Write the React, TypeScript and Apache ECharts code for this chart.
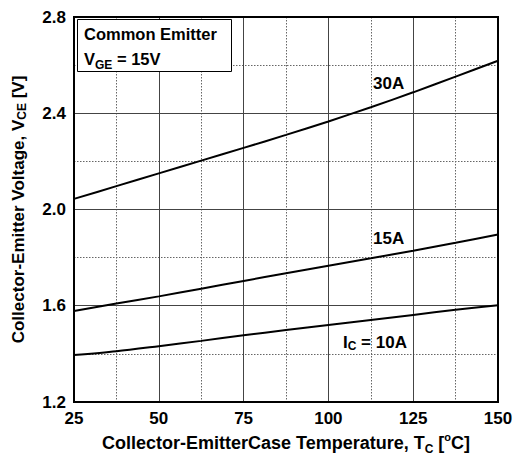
import React, { useEffect, useRef } from "react";
import * as echarts from "echarts";

const temps = [25, 37.5, 50, 62.5, 75, 87.5, 100, 112.5, 125, 137.5, 150];
const vce30A = [2.044, 2.097, 2.150, 2.203, 2.256, 2.310, 2.366, 2.425, 2.487, 2.552, 2.618];
const vce15A = [1.578, 1.609, 1.639, 1.671, 1.703, 1.735, 1.766, 1.797, 1.829, 1.862, 1.896];
const vce10A = [1.395, 1.411, 1.432, 1.454, 1.477, 1.499, 1.520, 1.541, 1.562, 1.583, 1.602];

const FONT = "'Liberation Sans', Arial, Helvetica, sans-serif";

export default function App() {
  const ref = useRef<HTMLDivElement>(null);
  useEffect(() => {
    const chart = echarts.init(ref.current!, null, { renderer: "svg" });
    const mk = (vals: number[]) => temps.map((t, i) => [t, vals[i]]);
    const lineSeries = (name: string, vals: number[]) => ({
      name,
      type: "line",
      data: mk(vals),
      smooth: 0.3,
      showSymbol: false,
      lineStyle: { color: "#000", width: 2 },
      z: 5,
    });
    const hidden = {
      axisLine: { show: false },
      axisTick: { show: false },
      axisLabel: { show: false },
    };
    const dotted = { show: true, lineStyle: { color: "#666", width: 1, type: [1.5, 1.5] } };
    const solid = { show: true, lineStyle: { color: "#444", width: 1 } };
    chart.setOption({
      animation: false,
      backgroundColor: "#fff",
      textStyle: { fontFamily: FONT },
      grid: {
        left: 74,
        top: 17,
        right: 16,
        bottom: 53,
        outerBoundsMode: "none",
        containLabel: false,
        show: true,
        borderColor: "#000",
        borderWidth: 2,
        z: 3,
      },
      xAxis: [
        {
          type: "value",
          min: 25,
          max: 150,
          interval: 25,
          z: 2,
          axisLine: { show: true, lineStyle: { color: "#000", width: 2 } },
          axisTick: { show: false },
          axisLabel: { color: "#000", fontWeight: "bold", fontSize: 17, fontFamily: FONT, margin: 8 },
          splitLine: solid,
          name: "{t|Collector-EmitterCase Temperature, T}{s|C}{t| [}{sup|o}{t|C]}",
          nameLocation: "middle",
          nameGap: 28,
          nameTextStyle: {
            rich: {
              t: { fontWeight: "bold", fontSize: 18, color: "#000", fontFamily: FONT },
              s: { fontWeight: "bold", fontSize: 12, color: "#000", fontFamily: FONT, verticalAlign: "bottom", padding: [8, 0, 0, 0] },
              sup: { fontWeight: "bold", fontSize: 11, color: "#000", fontFamily: FONT, verticalAlign: "bottom", padding: [0, 0, 12, 0] },
            },
          },
        },
        {
          type: "value",
          min: 25,
          max: 150,
          interval: 12.5,
          z: 1,
          ...hidden,
          splitLine: dotted,
        },
      ],
      yAxis: [
        {
          type: "value",
          min: 1.2,
          max: 2.8,
          interval: 0.4,
          z: 2,
          axisLine: { show: true, lineStyle: { color: "#000", width: 2 } },
          axisTick: { show: false },
          axisLabel: {
            color: "#000",
            fontWeight: "bold",
            fontSize: 17,
            fontFamily: FONT,
            margin: 8,
            formatter: (v: number) => v.toFixed(1),
          },
          splitLine: solid,
          name: "{t|Collector-Emitter Voltage, V}{s|CE}{t| [V]}",
          nameLocation: "middle",
          nameGap: 46,
          nameRotate: 90,
          nameTextStyle: {
            rich: {
              t: { fontWeight: "bold", fontSize: 17, color: "#000", fontFamily: FONT },
              s: { fontWeight: "bold", fontSize: 12, color: "#000", fontFamily: FONT, verticalAlign: "bottom", padding: [7, 0, 0, 0] },
            },
          },
        },
        {
          type: "value",
          min: 1.2,
          max: 2.8,
          interval: 0.2,
          z: 1,
          ...hidden,
          splitLine: dotted,
        },
      ],
      series: [lineSeries("30A", vce30A), lineSeries("15A", vce15A), lineSeries("10A", vce10A)],
      graphic: [
        {
          type: "rect",
          left: 77,
          top: 19,
          shape: { width: 154, height: 52 },
          style: { fill: "#fff", stroke: "#000", lineWidth: 1 },
          z: 10,
        },
        {
          type: "text",
          left: 84,
          top: 25,
          style: {
            text: "{t|Common Emitter}\n{t|V}{s|GE}{t| = 15V}",
            rich: {
              t: { fontWeight: "bold", fontSize: 16.5, fill: "#000", fontFamily: FONT, lineHeight: 25 },
              s: { fontWeight: "bold", fontSize: 12, fill: "#000", fontFamily: FONT, verticalAlign: "bottom", lineHeight: 25, padding: [6, 0, 0, 0] },
            },
          },
          z: 11,
        },
        {
          type: "text",
          left: 373,
          top: 75,
          style: { text: "30A", fontWeight: "bold", fontSize: 17, fill: "#000", fontFamily: FONT },
          z: 11,
        },
        {
          type: "text",
          left: 373,
          top: 230,
          style: { text: "15A", fontWeight: "bold", fontSize: 17, fill: "#000", fontFamily: FONT },
          z: 11,
        },
        {
          type: "text",
          left: 343,
          top: 334,
          style: {
            text: "{t|I}{s|C}{t| = 10A}",
            rich: {
              t: { fontWeight: "bold", fontSize: 17, fill: "#000", fontFamily: FONT },
              s: { fontWeight: "bold", fontSize: 12, fill: "#000", fontFamily: FONT, verticalAlign: "bottom", padding: [7, 0, 0, 0] },
            },
          },
          z: 11,
        },
      ],
    });
    return () => chart.dispose();
  }, []);
  return <div ref={ref} style={{ width: 514, height: 455, position: "absolute", left: 0, top: 0 }} />;
}
